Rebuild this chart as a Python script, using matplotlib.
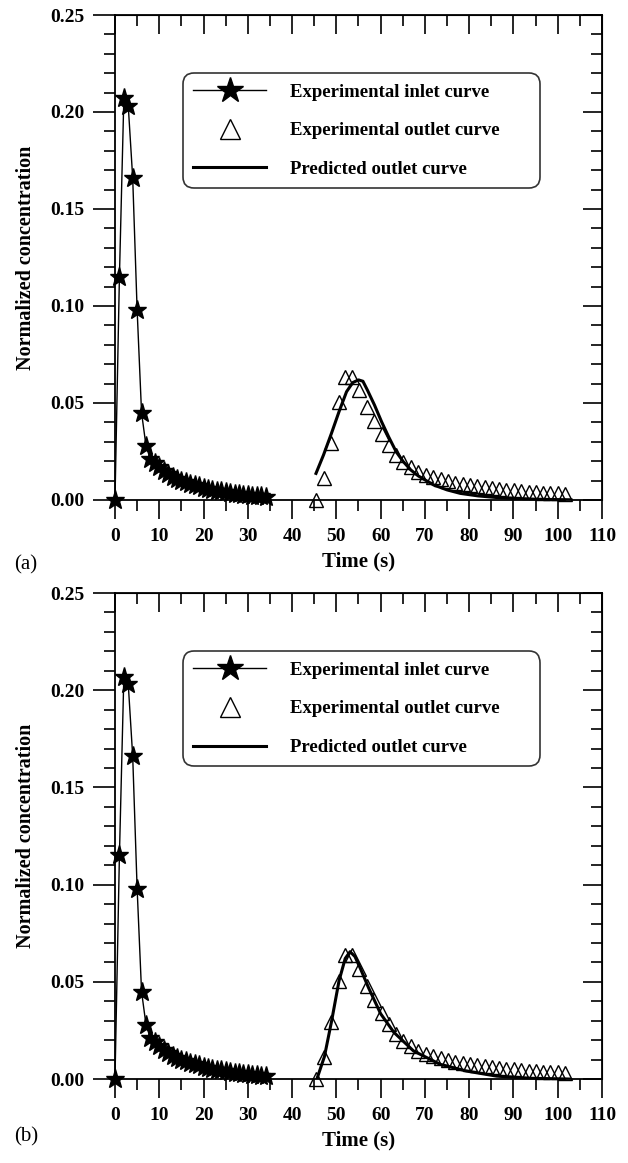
import matplotlib
matplotlib.use("Agg")
import matplotlib.pyplot as plt
from matplotlib.ticker import MultipleLocator
from matplotlib.lines import Line2D

# experimental inlet curve (same in both panels)
inlet_t = [0, 1, 2, 3, 4, 5, 6, 7, 8, 9, 10, 11, 12, 13, 14, 15, 16, 17, 18,
           19, 20, 21, 22, 23, 24, 25, 26, 27, 28, 29, 30, 31, 32, 33, 34]
inlet_c = [0.0, 0.115, 0.207, 0.203, 0.166, 0.098, 0.045, 0.028, 0.021, 0.019,
           0.017, 0.015, 0.0135, 0.012, 0.011, 0.0100, 0.0092, 0.0084, 0.0077,
           0.0070, 0.0064, 0.0058, 0.0053, 0.0048, 0.0044, 0.0040, 0.0036,
           0.0033, 0.0030, 0.0027, 0.0024, 0.0022, 0.0020, 0.0018, 0.0016]

# experimental outlet curve
outlet_t = [45.5, 47.2, 48.9, 50.6, 52.0, 53.6, 55.2, 57.0, 58.6, 60.2, 61.8,
            63.5, 65.1, 66.8, 68.5, 70.2, 71.9, 73.6, 75.2, 76.9, 78.5, 80.2,
            81.8, 83.5, 85.1, 86.8, 88.4, 90.1, 91.7, 93.4, 95.0, 96.7, 98.3,
            100.0, 101.6]
outlet_c = [0.0, 0.0115, 0.0295, 0.0505, 0.0636, 0.0636, 0.0566, 0.0480,
            0.0405, 0.0339, 0.0281, 0.0232, 0.0198, 0.0168, 0.0144, 0.0127,
            0.0117, 0.0107, 0.0098, 0.0090, 0.0083, 0.0077, 0.0071, 0.0066,
            0.0061, 0.0057, 0.0053, 0.0050, 0.0046, 0.0043, 0.0041, 0.0038,
            0.0036, 0.0034, 0.0032]

# predicted outlet curve, panel (a)
pred_a_t = [45.4, 47.1, 48.9, 50.6, 52.3, 53.7, 55.0, 56.0, 57.0, 58.6, 60.2,
            61.8, 63.5, 65.1, 66.8, 68.5, 72.0, 75.0, 78.0, 82.0, 86.0, 90.0,
            95.0, 100.0, 103.0]
pred_a_c = [0.0137, 0.0232, 0.0344, 0.0455, 0.0558, 0.0605, 0.0619, 0.0612,
            0.0567, 0.0490, 0.0404, 0.0326, 0.0249, 0.0198, 0.0155, 0.0124,
            0.0077, 0.0052, 0.0034, 0.0021, 0.0013, 0.0008, 0.0004, 0.0002,
            0.0001]

# predicted outlet curve, panel (b)
pred_b_t = [45.6, 47.3, 48.9, 50.6, 52.0, 53.1, 54.2, 55.4, 57.3, 60.0, 63.0,
            67.4, 73.4, 79.4, 86.2, 93.6, 102.6]
pred_b_c = [0.0, 0.0115, 0.0295, 0.0505, 0.0620, 0.0655, 0.0630, 0.0570,
            0.0468, 0.0336, 0.0240, 0.0145, 0.0076, 0.0041, 0.0015, 0.0004,
            0.0]

x_ticks = list(range(0, 111, 10))
y_ticks = [0.00, 0.05, 0.10, 0.15, 0.20, 0.25]
y_ticklabels = ["0.00", "0.05", "0.10", "0.15", "0.20", "0.25"]

SERIF = "Liberation Serif"


def draw_panel(ax, pred_t, pred_c):
    ax.plot(inlet_t, inlet_c, color="black", lw=1.0, marker="*", ms=14,
            mfc="black", mec="black", zorder=3, clip_on=False)
    ax.plot(outlet_t, outlet_c, ls="none", marker="^", ms=10, mfc="none",
            mec="black", mew=1.0, zorder=3, clip_on=False)
    ax.plot(pred_t, pred_c, color="black", lw=2.2, zorder=4)

    ax.set_xlim(0, 110)
    ax.set_ylim(0, 0.25)
    ax.set_xticks(x_ticks)
    ax.set_yticks(y_ticks)
    ax.set_yticklabels(y_ticklabels)
    ax.xaxis.set_minor_locator(MultipleLocator(5))
    ax.yaxis.set_minor_locator(MultipleLocator(0.01))
    ax.tick_params(which="major", direction="out", length=14, width=1.2,
                   labelsize=14, pad=6)
    ax.tick_params(which="minor", direction="out", length=8, width=1.2)
    ax.tick_params(axis="y", which="major", length=16)
    for lab in ax.get_xticklabels() + ax.get_yticklabels():
        lab.set_fontfamily(SERIF)
        lab.set_fontweight("bold")
    for sp in ax.spines.values():
        sp.set_linewidth(1.3)

    # inward mirror ticks on top and right
    top = ax.secondary_xaxis("top")
    top.set_xticks(x_ticks)
    top.xaxis.set_minor_locator(MultipleLocator(5))
    top.tick_params(which="major", direction="in", length=14, width=1.2,
                    labeltop=False)
    top.tick_params(which="minor", direction="in", length=8, width=1.2)
    right = ax.secondary_yaxis("right")
    right.set_yticks(y_ticks)
    right.yaxis.set_minor_locator(MultipleLocator(0.01))
    right.tick_params(which="major", direction="in", length=14, width=1.2,
                      labelright=False)
    right.tick_params(which="minor", direction="in", length=8, width=1.2)

    ax.set_xlabel("Time (s)", fontfamily=SERIF, fontweight="bold",
                  fontsize=15, labelpad=5)
    ax.set_ylabel("Normalized concentration", fontfamily=SERIF,
                  fontweight="bold", fontsize=14.5, labelpad=10)

    handles = [
        Line2D([], [], color="black", lw=1.0, marker="*", ms=19),
        Line2D([], [], ls="none", marker="^", ms=15, mfc="none",
               mec="black", mew=1.0),
        Line2D([], [], color="black", lw=2.2),
    ]
    labels = ["Experimental inlet curve", "Experimental outlet curve",
              "Predicted outlet curve"]
    leg = ax.legend(handles, labels, loc="upper left",
                    bbox_to_anchor=(0.139, 0.65, 0.734, 0.23), mode="expand",
                    frameon=True, fancybox=True,
                    prop={"family": SERIF, "weight": "bold", "size": 13.5},
                    handlelength=3.9, handletextpad=1.3, labelspacing=1.15,
                    borderpad=0.55, borderaxespad=0, markerscale=1.0)
    fr = leg.get_frame()
    fr.set_edgecolor("black")
    fr.set_linewidth(1.2)
    fr.set_boxstyle("round,pad=0,rounding_size=0.6")


fig = plt.figure(figsize=(6.28, 11.63), dpi=100)
ax_a = fig.add_axes([0.1831, 0.5701, 0.7755, 0.4170])
ax_b = fig.add_axes([0.1831, 0.0722, 0.7755, 0.4179])

draw_panel(ax_a, pred_a_t, pred_a_c)
draw_panel(ax_b, pred_b_t, pred_b_c)

fig.text(0.022, 1 - 565 / 1163, "(a)", fontfamily=SERIF, fontsize=15,
         va="center", ha="left")
fig.text(0.022, 1 - 1137 / 1163, "(b)", fontfamily=SERIF, fontsize=15,
         va="center", ha="left")

fig.savefig("out.png", dpi=100)
